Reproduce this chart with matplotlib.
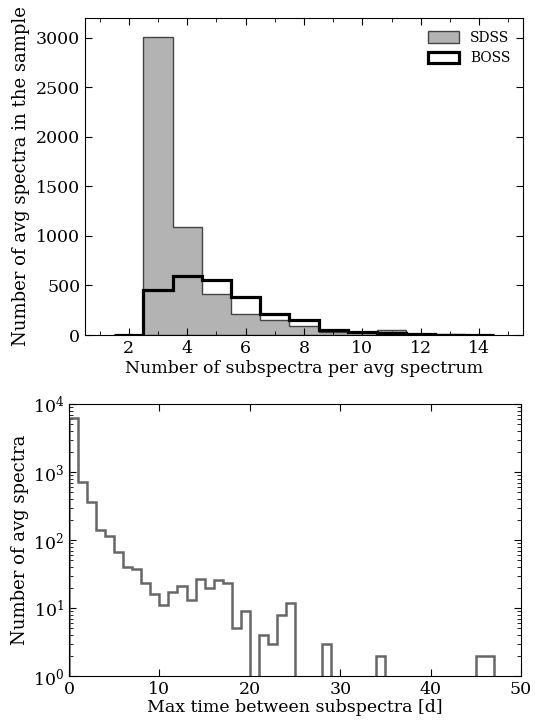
import numpy as np
import matplotlib.pyplot as plt
from matplotlib.ticker import MultipleLocator

plt.rcParams['font.family'] = 'DejaVu Serif'
plt.rcParams['mathtext.fontset'] = 'dejavuserif'
plt.rcParams['font.size'] = 12.5
plt.rcParams['axes.labelsize'] = 13

# number of subspectra per averaged spectrum (bin centres) and counts
n_sub = np.arange(2, 15)
sdss_counts = [5, 3005, 1095, 410, 212, 148, 94, 34, 28, 50, 10, 7, 5]
boss_counts = [0, 450, 600, 555, 387, 212, 151, 50, 34, 17, 7, 0, 0]

# max time between subspectra, 1-day bins starting at 0
t_counts = [6150, 718, 365, 140, 116, 66, 40, 38, 23, 16,
            11, 17, 21, 13, 27, 20, 26, 23, 5, 9,
            0, 4, 3, 8, 12, 0, 0, 0, 3, 0,
            0, 0, 0, 0, 2, 0, 0, 0, 0, 0,
            0, 0, 0, 0, 0, 2, 2, 0, 0, 0]

fig = plt.figure(figsize=(5.39, 7.22), dpi=100)

# --- top panel ---
ax1 = fig.add_axes([0.1577, 0.536, 0.8126, 0.439])
edges1 = np.arange(1.5, 15.0, 1.0)
ax1.hist(n_sub, bins=edges1, weights=sdss_counts, histtype='stepfilled',
         facecolor='#b3b3b3', edgecolor='#444444', linewidth=1.0, label='SDSS')
ax1.hist(n_sub, bins=edges1, weights=boss_counts, histtype='step',
         color='black', linewidth=2.3, label='BOSS')
ax1.set_xlim(0.5, 15.5)
ax1.set_ylim(0, 3200)
ax1.xaxis.set_major_locator(MultipleLocator(2))
ax1.xaxis.set_minor_locator(MultipleLocator(1))
ax1.yaxis.set_major_locator(MultipleLocator(500))
ax1.tick_params(which='both', direction='in', top=True, right=True)
ax1.tick_params(which='major', length=5)
ax1.tick_params(which='minor', length=3)
ax1.set_xlabel('Number of subspectra per avg spectrum', fontsize=12.5, labelpad=2)
ax1.set_ylabel('Number of avg spectra in the sample', labelpad=4)
ax1.legend(loc='upper right', frameon=False, fontsize=10,
           handlelength=2.2, handleheight=0.9, borderaxespad=0.5)

# --- bottom panel ---
ax2 = fig.add_axes([0.128, 0.0637, 0.8386, 0.3767])
t_edges = np.arange(0, 51, 1.0)
t_centres = t_edges[:-1] + 0.5
ax2.hist(t_centres, bins=t_edges, weights=t_counts, histtype='step',
         color='#666666', linewidth=1.8)
ax2.set_yscale('log', nonpositive='clip')
ax2.set_xlim(0, 50)
ax2.set_ylim(1, 1e4)
ax2.xaxis.set_major_locator(MultipleLocator(10))
ax2.tick_params(which='both', direction='in', top=True, right=True)
ax2.tick_params(which='major', length=5)
ax2.tick_params(which='minor', length=3)
ax2.set_xlabel('Max time between subspectra [d]', fontsize=12.5, labelpad=1)
ax2.set_ylabel('Number of avg spectra', labelpad=3)

fig.savefig('out.png', dpi=100)
